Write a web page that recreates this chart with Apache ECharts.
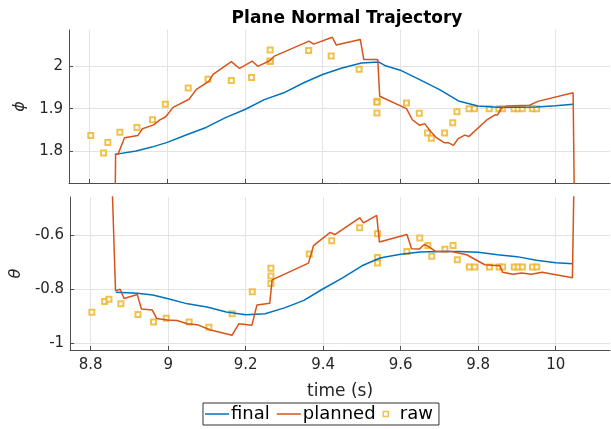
<!DOCTYPE html>
<html>
<head>
<meta charset="utf-8">
<script src="https://cdn.jsdelivr.net/npm/echarts@6/dist/echarts.min.js"></script>
<style>
  html, body { margin: 0; padding: 0; background: #fff; }
  #chart { width: 611px; height: 429px; }
</style>
</head>
<body>
<div id="chart"></div>
<script>
// x tick labels (time, s)
const timeTicks = [8.8, 9, 9.2, 9.4, 9.6, 9.8, 10];
const phiTicks = [1.8, 1.9, 2];
const thetaTicks = [-1, -0.8, -0.6];

// final trajectory
const finalT = [8.865, 8.92, 8.96, 9.0, 9.05, 9.10, 9.15, 9.20, 9.25, 9.30, 9.35, 9.40, 9.45,
  9.50, 9.545, 9.56, 9.60, 9.65, 9.70, 9.75, 9.80, 9.85, 9.90, 9.95, 10.0, 10.045];
const finalPhi = [1.793, 1.801, 1.810, 1.821, 1.839, 1.856, 1.879, 1.898, 1.921, 1.937, 1.960, 1.980, 1.995,
  2.007, 2.009, 2.001, 1.990, 1.968, 1.945, 1.918, 1.906, 1.903, 1.903, 1.904, 1.907, 1.910];
const finalTheta = [-0.810, -0.814, -0.820, -0.834, -0.853, -0.865, -0.883, -0.893, -0.890, -0.868, -0.840, -0.797, -0.757,
  -0.712, -0.684, -0.679, -0.669, -0.661, -0.659, -0.659, -0.662, -0.671, -0.678, -0.691, -0.701, -0.704];

// planned trajectory (phi)
const plannedPhiT = [8.866, 8.867, 8.873, 8.877, 8.890, 8.924, 8.936, 8.965, 8.980, 8.996, 9.015, 9.056, 9.075,
  9.107, 9.118, 9.165, 9.186, 9.219, 9.233, 9.264, 9.276, 9.365, 9.377, 9.425, 9.435, 9.497, 9.506, 9.542,
  9.547, 9.616, 9.631, 9.650, 9.663, 9.676, 9.693, 9.714, 9.725, 9.737, 9.749, 9.766, 9.777, 9.822, 9.827,
  9.843, 9.850, 9.860, 9.873, 9.933, 9.954, 10.045, 10.048];
const plannedPhi = [1.70, 1.793, 1.793, 1.789, 1.832, 1.837, 1.853, 1.862, 1.873, 1.881, 1.903, 1.922, 1.945,
  1.964, 1.980, 2.010, 1.994, 2.011, 1.999, 2.012, 2.023, 2.058, 2.051, 2.067, 2.049, 2.062, 2.015, 2.015,
  1.929, 1.900, 1.874, 1.861, 1.865, 1.849, 1.832, 1.820, 1.820, 1.814, 1.830, 1.838, 1.835, 1.873, 1.873,
  1.885, 1.885, 1.900, 1.906, 1.908, 1.917, 1.937, 1.70];

// planned trajectory (theta)
const plannedThetaT = [8.855, 8.864, 8.876, 8.886, 8.920, 8.931, 8.959, 8.970, 8.998, 9.023, 9.049, 9.075, 9.109,
  9.165, 9.182, 9.216, 9.229, 9.262, 9.268, 9.362, 9.375, 9.418, 9.430, 9.494, 9.504, 9.538, 9.545, 9.616,
  9.628, 9.648, 9.660, 9.667, 9.691, 9.731, 9.770, 9.817, 9.856, 9.863, 9.890, 9.912, 9.937, 9.965, 10.043, 10.047];
const plannedTheta = [-0.40, -0.805, -0.799, -0.833, -0.818, -0.872, -0.876, -0.907, -0.913, -0.915, -0.927, -0.930, -0.950,
  -0.969, -0.927, -0.932, -0.857, -0.851, -0.764, -0.702, -0.637, -0.588, -0.596, -0.534, -0.553, -0.525, -0.624, -0.596,
  -0.649, -0.650, -0.634, -0.636, -0.659, -0.659, -0.671, -0.708, -0.712, -0.736, -0.743, -0.739, -0.743, -0.736, -0.756, -0.40];

// raw measurements
const rawT = [8.803, 8.836, 8.847, 8.878, 8.922, 8.962, 8.995, 9.054, 9.105, 9.165, 9.217, 9.265, 9.265, 9.265,
  9.364, 9.422, 9.494, 9.540, 9.540, 9.540, 9.616, 9.649, 9.670, 9.680, 9.714, 9.735, 9.746, 9.777, 9.791,
  9.829, 9.854, 9.863, 9.893, 9.903, 9.914, 9.940, 9.951];
const rawPhi = [1.837, 1.796, 1.821, 1.845, 1.856, 1.874, 1.910, 1.948, 1.969, 1.966, 1.973, 2.037, 2.011, 2.011,
  2.036, 2.023, 1.992, 1.917, 1.915, 1.890, 1.913, 1.889, 1.843, 1.831, 1.843, 1.867, 1.893, 1.900, 1.900,
  1.900, 1.900, 1.900, 1.900, 1.900, 1.900, 1.900, 1.900];
const rawTheta = [-0.884, -0.844, -0.836, -0.853, -0.892, -0.920, -0.906, -0.920, -0.940, -0.890, -0.808, -0.721, -0.750, -0.778,
  -0.668, -0.619, -0.571, -0.593, -0.681, -0.702, -0.659, -0.609, -0.637, -0.677, -0.651, -0.637, -0.690, -0.716, -0.716,
  -0.716, -0.716, -0.716, -0.716, -0.716, -0.716, -0.716, -0.716];

const zip = (xs, ys) => xs.map((x, i) => [x, ys[i]]);

const FONT = "DejaVu Sans";
const AXIS_COLOR = "#4d4d4d";
const GRID_COLOR = "#e3e3e3";
const BLUE = "#0072BD";
const ORANGE = "#D95319";
const YELLOW = "#EDB120";

const xAxisBase = (gridIndex, showLabels) => ({
  type: "value",
  gridIndex: gridIndex,
  min: 8.747,
  max: 10.14,
  axisLine: { show: true, lineStyle: { color: AXIS_COLOR } },
  axisTick: { show: true, inside: true, length: 4, customValues: timeTicks, lineStyle: { color: AXIS_COLOR } },
  axisLabel: {
    show: showLabels,
    customValues: timeTicks,
    fontFamily: FONT,
    fontSize: 15,
    color: "#262626",
    margin: 8,
  },
  splitLine: { show: true, lineStyle: { color: GRID_COLOR } },
});

const yAxisBase = (gridIndex, min, max, ticks, name, nameGap) => ({
  type: "value",
  gridIndex: gridIndex,
  min: min,
  max: max,
  name: name,
  nameLocation: "middle",
  nameGap: nameGap,
  nameTextStyle: { fontFamily: FONT, fontSize: 16, fontStyle: "italic", color: "#262626" },
  axisLine: { show: true, lineStyle: { color: AXIS_COLOR } },
  axisTick: { show: true, inside: true, length: 4, customValues: ticks, lineStyle: { color: AXIS_COLOR } },
  axisLabel: {
    customValues: ticks,
    fontFamily: FONT,
    fontSize: 15,
    color: "#262626",
    margin: 6,
  },
  splitLine: { show: true, lineStyle: { color: GRID_COLOR } },
});

const chart = echarts.init(document.getElementById("chart"));

const option = {
  animation: false,
  backgroundColor: "#fff",
  title: {
    text: "Plane Normal Trajectory",
    left: 342,
    top: 5,
    textAlign: "center",
    textStyle: { fontFamily: FONT, fontSize: 17, fontWeight: "bold", color: "#000" },
  },
  legend: {
    left: 203,
    top: 403,
    orient: "horizontal",
    itemWidth: 24,
    itemHeight: 5,
    itemGap: 7,
    padding: [2, 6, 2, 2],
    borderColor: "#333",
    borderWidth: 1,
    symbolKeepAspect: true,
    textStyle: { fontFamily: FONT, fontSize: 18, color: "#000", padding: [0, 0, 0, -3] },
    data: [
      { name: "final", icon: "path://M0,0h24v1.5h-24z", itemStyle: { color: BLUE, borderWidth: 0 } },
      { name: "planned", icon: "path://M0,0h24v1.5h-24z", itemStyle: { color: ORANGE, borderWidth: 0 } },
      { name: "raw", icon: "path://M0,0h10v10h-10z", itemStyle: { color: "#fff", borderColor: YELLOW, borderWidth: 1.5 } },
    ],
  },
  grid: [
    { left: 69, right: 1, top: 30, height: 153 },
    { left: 69, right: 1, top: 197, height: 153 },
  ],
  xAxis: [
    xAxisBase(0, false),
    Object.assign(xAxisBase(1, true), {
      name: "time (s)",
      nameLocation: "middle",
      nameGap: 33,
      nameTextStyle: { fontFamily: FONT, fontSize: 17, color: "#262626" },
    }),
  ],
  yAxis: [
    yAxisBase(0, 1.726, 2.084, phiTicks, "\u03d5", 40),
    yAxisBase(1, -1.024, -0.457, thetaTicks, "\u03b8", 44),
  ],
  series: [
    {
      name: "final", type: "line", xAxisIndex: 0, yAxisIndex: 0,
      data: zip(finalT, finalPhi), symbol: "none",
      lineStyle: { color: BLUE, width: 1.5 }, itemStyle: { color: BLUE },
    },
    {
      name: "planned", type: "line", xAxisIndex: 0, yAxisIndex: 0,
      data: zip(plannedPhiT, plannedPhi), symbol: "none",
      lineStyle: { color: ORANGE, width: 1.5 }, itemStyle: { color: ORANGE },
    },
    {
      name: "raw", type: "scatter", xAxisIndex: 0, yAxisIndex: 0,
      data: zip(rawT, rawPhi), symbol: "emptyRect", symbolSize: 5,
      itemStyle: { color: YELLOW, borderWidth: 1.5 },
    },
    {
      name: "final", type: "line", xAxisIndex: 1, yAxisIndex: 1,
      data: zip(finalT, finalTheta), symbol: "none",
      lineStyle: { color: BLUE, width: 1.5 }, itemStyle: { color: BLUE },
    },
    {
      name: "planned", type: "line", xAxisIndex: 1, yAxisIndex: 1,
      data: zip(plannedThetaT, plannedTheta), symbol: "none",
      lineStyle: { color: ORANGE, width: 1.5 }, itemStyle: { color: ORANGE },
    },
    {
      name: "raw", type: "scatter", xAxisIndex: 1, yAxisIndex: 1,
      data: zip(rawT, rawTheta), symbol: "emptyRect", symbolSize: 5,
      itemStyle: { color: YELLOW, borderWidth: 1.5 },
    },
  ],
};

chart.setOption(option);
</script>
</body>
</html>
